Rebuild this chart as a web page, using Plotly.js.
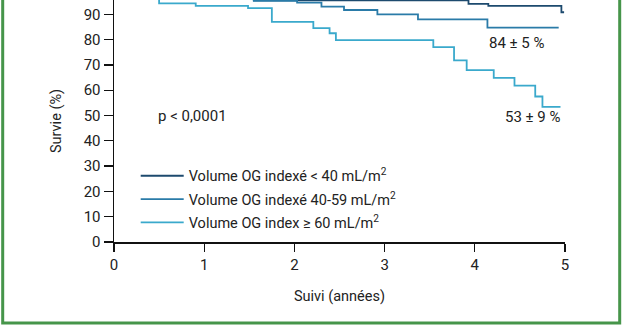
<!DOCTYPE html>
<html>
<head>
<meta charset="utf-8">
<script src="https://cdn.plot.ly/plotly-3.0.1.min.js"></script>
<style>
  html, body { margin: 0; padding: 0; background: #ffffff; }
  #chart { width: 625px; height: 336px; }
</style>
</head>
<body>
<div id="chart"></div>
<script>
// Series names (legend)
const seriesNames = [
  "Volume OG indexé < 40 mL/m<sup>2</sup>",
  "Volume OG indexé 40-59 mL/m<sup>2</sup>",
  "Volume OG index ≥ 60 mL/m<sup>2</sup>"
];
// Kaplan-Meier curves: time (years) and survival (%)
const timesLow = [0, 1.55, 3.93, 4.15, 4.96, 4.99];
const survLow  = [100, 95.5, 94.1, 93.3, 90.8, 90.8];

const timesMid = [0, 1.55, 2.03, 2.30, 2.55, 2.92, 3.37, 4.14, 4.93];
const survMid  = [100, 95.3, 94.6, 93.0, 91.7, 90.0, 88.0, 84.7, 84.7];

const timesHigh = [0, 0.50, 0.906, 1.486, 1.75, 2.21, 2.39, 2.46, 3.54, 3.77, 3.91, 4.21, 4.44, 4.67, 4.75, 4.95];
const survHigh  = [100, 94.3, 93.3, 92.4, 87.0, 84.5, 82.5, 79.8, 77.0, 71.8, 67.9, 64.9, 61.8, 57.5, 53.4, 53.4];

const xTicks = [0, 1, 2, 3, 4, 5];
const yTicks = [0, 10, 20, 30, 40, 50, 60, 70, 80, 90, 100];

const annotTexts = ["p < 0,0001", "84 ± 5 %", "53 ± 9 %"];
const annotX = [0.47, 4.14, 4.31];
const annotY = [50, 78.7, 49.6];

const colors = ["#1d4a6e", "#2a7ba8", "#3aa9cc"];
const FONT = "Roboto, 'DejaVu Sans', sans-serif";
const TXT = "#222222";

const series = [[timesLow, survLow], [timesMid, survMid], [timesHigh, survHigh]];
const traces = series.map((s, i) => ({
  x: s[0], y: s[1], type: "scatter", mode: "lines",
  name: seriesNames[i], legendgroup: "g" + i,
  line: { shape: "hv", color: colors[i], width: 1.8 },
  hoverinfo: "skip"
}));

// plot area in px: left 114.3, right 565.3, top 0, bottom 242.3
const PL = 114.3, PW = 451, PH = 242.3;
const px2paperX = p => (p - PL) / PW;
const px2paperY = p => (PH - p) / PH;

const layout = {
  width: 625, height: 336,
  margin: { l: 114, r: 60, t: 0, b: 94, pad: 0 },
  paper_bgcolor: "#ffffff", plot_bgcolor: "#ffffff",
  font: { family: FONT, size: 14.5, color: TXT },
  showlegend: true,
  legend: {
    x: px2paperX(136), y: px2paperY(160), xanchor: "left", yanchor: "top",
    bgcolor: "rgba(0,0,0,0)", borderwidth: 0,
    font: { family: FONT, size: 14.5, color: TXT },
    tracegroupgap: 1.5, itemwidth: 43
  },
  xaxis: {
    range: [0, 5], tickvals: xTicks, ticktext: xTicks.map(String),
    showgrid: false, zeroline: false, showline: true, linecolor: "#111111", linewidth: 1.5,
    ticks: "outside", ticklen: 8, tickwidth: 1.3, tickcolor: "#111111",
    tickfont: { family: FONT, size: 15, color: TXT },
    title: { text: "Suivi (années)", font: { family: FONT, size: 14.5, color: TXT }, standoff: 18 },
    fixedrange: true
  },
  yaxis: {
    range: [0, 95.65], tickvals: yTicks, ticktext: yTicks.map(String),
    showgrid: false, zeroline: false, showline: true, linecolor: "#111111", linewidth: 1.5,
    ticks: "outside", ticklen: 9, tickwidth: 1.3, tickcolor: "#111111",
    tickfont: { family: FONT, size: 15, color: TXT },
    title: { text: "Survie (%)", font: { family: FONT, size: 14.5, color: TXT }, standoff: 18 },
    fixedrange: true
  },
  annotations: annotTexts.map((t, i) => ({
    text: t, x: annotX[i], y: annotY[i], xref: "x", yref: "y",
    xanchor: "left", yanchor: "middle", showarrow: false,
    font: { family: FONT, size: 15, color: TXT }
  })),
  shapes: [{
    type: "rect", xref: "paper", yref: "paper", layer: "above",
    x0: px2paperX(3), x1: px2paperX(620), y0: px2paperY(323.5), y1: px2paperY(-10),
    line: { color: "#46954a", width: 3 }, fillcolor: "rgba(0,0,0,0)"
  }]
};

Plotly.newPlot("chart", traces, layout, { staticPlot: true, displayModeBar: false });
</script>
</body>
</html>
